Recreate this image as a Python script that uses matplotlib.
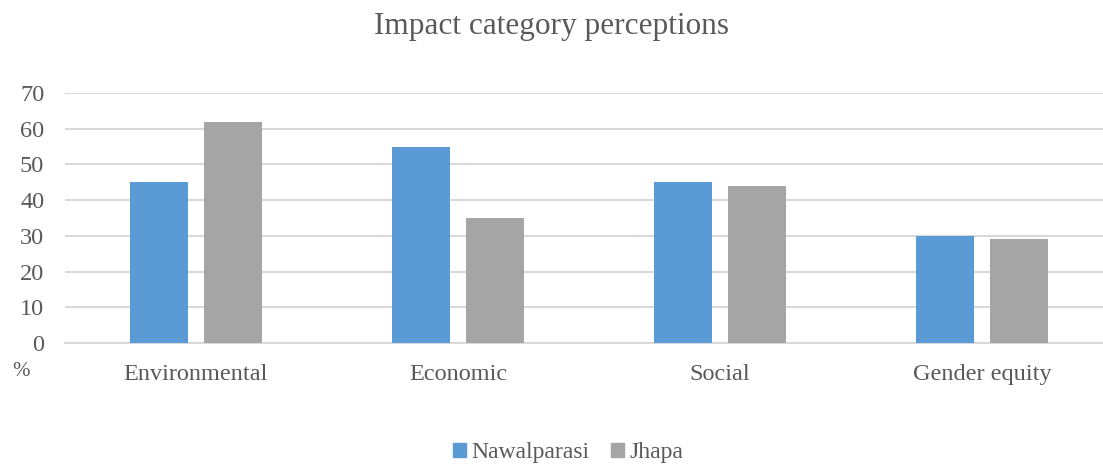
import numpy as np
import matplotlib.pyplot as plt
from matplotlib.patches import Patch

categories = ['Environmental', 'Economic', 'Social', 'Gender equity']
nawalparasi = [45, 55, 45, 30]
jhapa = [62, 35, 44, 29]
series_names = ['Nawalparasi', 'Jhapa']
yticks = [0, 10, 20, 30, 40, 50, 60, 70]

plt.rcParams['font.family'] = ['Liberation Serif', 'DejaVu Serif']
txt = '#595959'
c_blue = '#5b9bd5'
c_gray = '#a5a5a5'

fig = plt.figure(figsize=(11.03, 4.67), dpi=100)
ax = fig.add_axes([0.0589, 0.2655, 1.009 - 0.0589, 0.801 - 0.2655])

x = np.arange(len(categories))
w = 0.222
off = 0.142
ax.bar(x - off, nawalparasi, w, color=c_blue, zorder=3)
ax.bar(x + off, jhapa, w, color=c_gray, zorder=3)

ax.set_xlim(-0.5, len(categories) - 0.5)
ax.set_ylim(0, 70)
ax.set_yticks(yticks)
ax.set_xticks(x)
ax.set_xticklabels(categories)
ax.tick_params(axis='both', length=0, labelsize=17.5, colors=txt)
ax.tick_params(axis='y', pad=15)
ax.tick_params(axis='x', pad=15)
ax.grid(axis='y', color='#d9d9d9', linewidth=1.5, zorder=0)
for s in ['top', 'right', 'left']:
    ax.spines[s].set_visible(False)
ax.spines['bottom'].set_color('#d9d9d9')
ax.spines['bottom'].set_linewidth(1.5)

fig.text(0.011, 0.195, '%', fontsize=15, color=txt)
fig.text(0.5, 0.944, 'Impact category perceptions', ha='center', va='center',
         fontsize=22.5, color=txt)

handles = [Patch(color=c_blue), Patch(color=c_gray)]
fig.legend(handles, series_names, loc='center', bbox_to_anchor=(0.515, 0.03),
           ncol=2, frameon=False, fontsize=17, labelcolor=txt,
           handlelength=0.55, handleheight=0.55, handletextpad=0.25,
           columnspacing=0.9)

fig.savefig('out.png', dpi=100)
